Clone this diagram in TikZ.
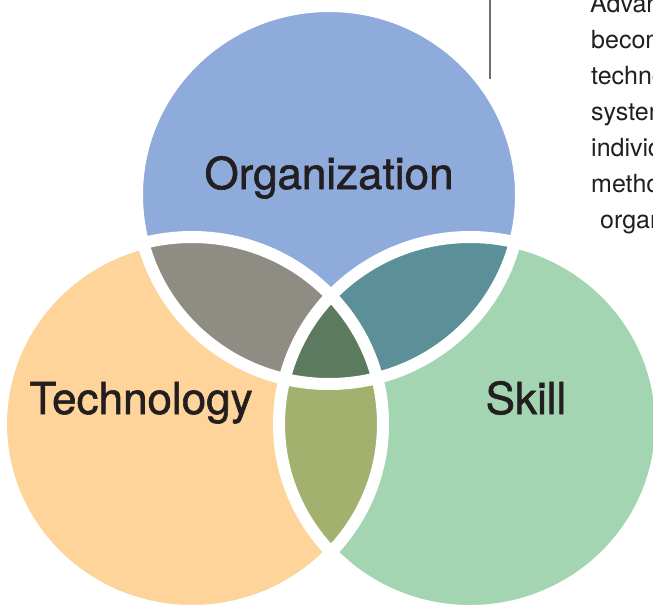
\documentclass[tikz,border=0pt]{standalone}
\usepackage{fontspec}
\setmainfont{TeX Gyre Heros}
\newfontfamily\labelfont[FakeBold=1.3]{TeX Gyre Heros}
\definecolor{cOrg}{HTML}{8FABDB}
\definecolor{cTech}{HTML}{FED49A}
\definecolor{cSkill}{HTML}{A3D5B2}
\definecolor{cOT}{HTML}{8F8C84}
\definecolor{cOS}{HTML}{5B9099}
\definecolor{cTS}{HTML}{A2B26E}
\definecolor{cAll}{HTML}{5C7A5D}
\definecolor{cInk}{HTML}{231F20}
\definecolor{cRule}{HTML}{6D6E71}
\tikzset{
  border/.style={draw=white, line width=12pt},
  biglabel/.style={font=\labelfont\fontsize{44}{50}\selectfont, text=cInk, inner sep=0pt, anchor=base},
  sidetext/.style={font=\fontsize{25}{36}\selectfont, text=cInk, inner sep=0pt, anchor=base west},
  rule/.style={draw=cRule, line width=1.3pt}
}
\begin{document}
\begin{tikzpicture}[x=1pt,y=-1pt]
\clip (0,0) rectangle (653,611);
\fill[white] (0,0) rectangle (653,611);
\coordinate (O) at (329,195);
\coordinate (T) at (192,424);
\coordinate (S) at (470,424);
% base fills
\fill[cOrg] (O) ellipse [x radius=192pt, y radius=189pt];
\fill[cTech] (T) ellipse [x radius=191pt, y radius=187pt];
\fill[cSkill] (S) ellipse [x radius=191pt, y radius=187pt];
% pairwise intersections
\begin{scope}
  \clip (T) ellipse [x radius=191pt, y radius=187pt];
  \fill[cOT] (O) ellipse [x radius=192pt, y radius=189pt];
\end{scope}
\begin{scope}
  \clip (S) ellipse [x radius=191pt, y radius=187pt];
  \fill[cOS] (O) ellipse [x radius=192pt, y radius=189pt];
\end{scope}
\begin{scope}
  \clip (T) ellipse [x radius=191pt, y radius=187pt];
  \fill[cTS] (S) ellipse [x radius=191pt, y radius=187pt];
\end{scope}
\begin{scope}
  \clip (T) ellipse [x radius=191pt, y radius=187pt];
  \clip (S) ellipse [x radius=191pt, y radius=187pt];
  \fill[cAll] (O) ellipse [x radius=192pt, y radius=189pt];
\end{scope}
% white borders
\draw[border] (O) ellipse [x radius=192pt, y radius=189pt];
\draw[border] (T) ellipse [x radius=191pt, y radius=187pt];
\draw[border] (S) ellipse [x radius=191pt, y radius=187pt];
% labels
\node[biglabel] (org) at (329,189) {Organization};
\node[biglabel] (tech) at (141,414) {Technology};
\node[biglabel] (skill) at (526,414) {Skill};
% vertical rule
\coordinate (r1) at (490,0);
\coordinate (r2) at (490,79);
\draw[rule] (r1) -- (r2);
% side text (cut by the page edge, as in the reference)
\node[sidetext] (t1) at (590,12) {Advances};
\node[sidetext] (t2) at (591,48) {become};
\node[sidetext] (t3) at (591,84) {technology};
\node[sidetext] (t4) at (591,120) {systems};
\node[sidetext] (t5) at (591,156) {individual};
\node[sidetext] (t6) at (591,192) {methods};
\node[sidetext] (t7) at (600,228) {organization};
\end{tikzpicture}
\end{document}
